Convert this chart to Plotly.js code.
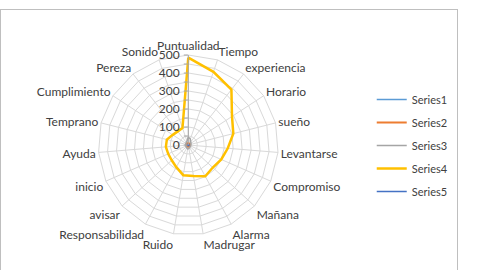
<!DOCTYPE html>
<html>
<head>
<meta charset="utf-8">
<script src="https://cdn.plot.ly/plotly-3.0.1.min.js"></script>
<style>
html,body{margin:0;padding:0;background:#fff;}
#wrap{position:relative;width:501px;height:270px;overflow:hidden;}
#chart{position:absolute;left:0;top:0;width:501px;height:270px;}
#frame{position:absolute;left:0;top:9px;width:456px;height:300px;border:1px solid #BFBFBF;pointer-events:none;}
</style>
</head>
<body>
<div id="wrap"><div id="chart"></div><div id="frame"></div></div>
<script>
const categories = ["Puntualidad","Tiempo","experiencia","Horario","sueño","Levantarse","Compromiso","Mañana","Alarma","Madrugar","Ruido","Responsabilidad","avisar","inicio","Ayuda","Temprano","Cumplimiento","Pereza","Sonido"];
const series1 = [6,5,5,5,5,5,5,5,5,5,5,5,5,5,5,5,5,5,5];
const series2 = [12,10,10,10,10,10,10,10,10,10,10,10,10,10,10,10,10,10,10];
const series3 = [45,35,22,18,15,14,14,14,16,20,22,18,16,15,15,15,16,18,22];
const series4 = [485,430,390,290,258,220,200,185,198,175,170,140,125,122,125,123,103,96,100];
const series5 = [4,4,4,4,4,4,4,4,4,4,4,4,4,4,4,4,4,4,4];
const seriesNames = ["Series1","Series2","Series3","Series4","Series5"];
const seriesColors = ["#5B9BD5","#ED7D31","#A5A5A5","#FFC000","#4472C4"];
const seriesWidths = [1.5,2,1.5,2.5,1.5];
const radialTicks = [0,50,100,150,200,250,300,350,400,450,500];
const radialTickText = ["0","","100","","200","","300","","400","","500"];

const all = [series1,series2,series3,series4,series5];
const traces = all.map((vals,i)=>({
  type:'scatterpolar',
  mode:'lines',
  r: vals.concat([vals[0]]),
  theta: categories.concat([categories[0]]),
  name: seriesNames[i],
  legendgroup: 'g'+i,
  line:{color:seriesColors[i], width:seriesWidths[i]},
  hoverinfo:'skip'
}));

const fam = 'Lato, "Open Sans", sans-serif';
const layout = {
  width:501, height:270,
  margin:{l:0,r:0,t:0,b:0},
  paper_bgcolor:'#fff',
  font:{family:fam, size:12, color:'#404040'},
  showlegend:true,
  legend:{x:0.742, y:0.685, xanchor:'left', yanchor:'top', font:{family:fam,size:11,color:'#404040'}, tracegroupgap:4, itemwidth:30, bgcolor:'rgba(0,0,0,0)'},
  polar:{
    domain:{x:[(188.3-90)/501,(188.3+90)/501], y:[(125-90)/270,(125+90)/270]},
    bgcolor:'#fff',
    gridshape:'linear',
    radialaxis:{
      range:[0,500], angle:90, side:'counterclockwise',
      tickmode:'array', tickvals:radialTicks, ticktext:radialTickText,
      showline:true, linecolor:'#A6A6A6', linewidth:1,
      gridcolor:'#D9D9D9', gridwidth:1,
      ticks:'outside', ticklen:4, tickcolor:'#A6A6A6',
      tickfont:{family:fam,size:12,color:'#404040'},
      tickangle:90
    },
    angularaxis:{
      direction:'clockwise', rotation:90,
      type:'category',
      gridcolor:'#D9D9D9', linecolor:'#D9D9D9', showline:true,
      ticks:'', tickfont:{family:fam,size:12,color:'#404040'}
    }
  }
};
Plotly.newPlot('chart', traces, layout, {displayModeBar:false, staticPlot:true});
</script>
</body>
</html>
